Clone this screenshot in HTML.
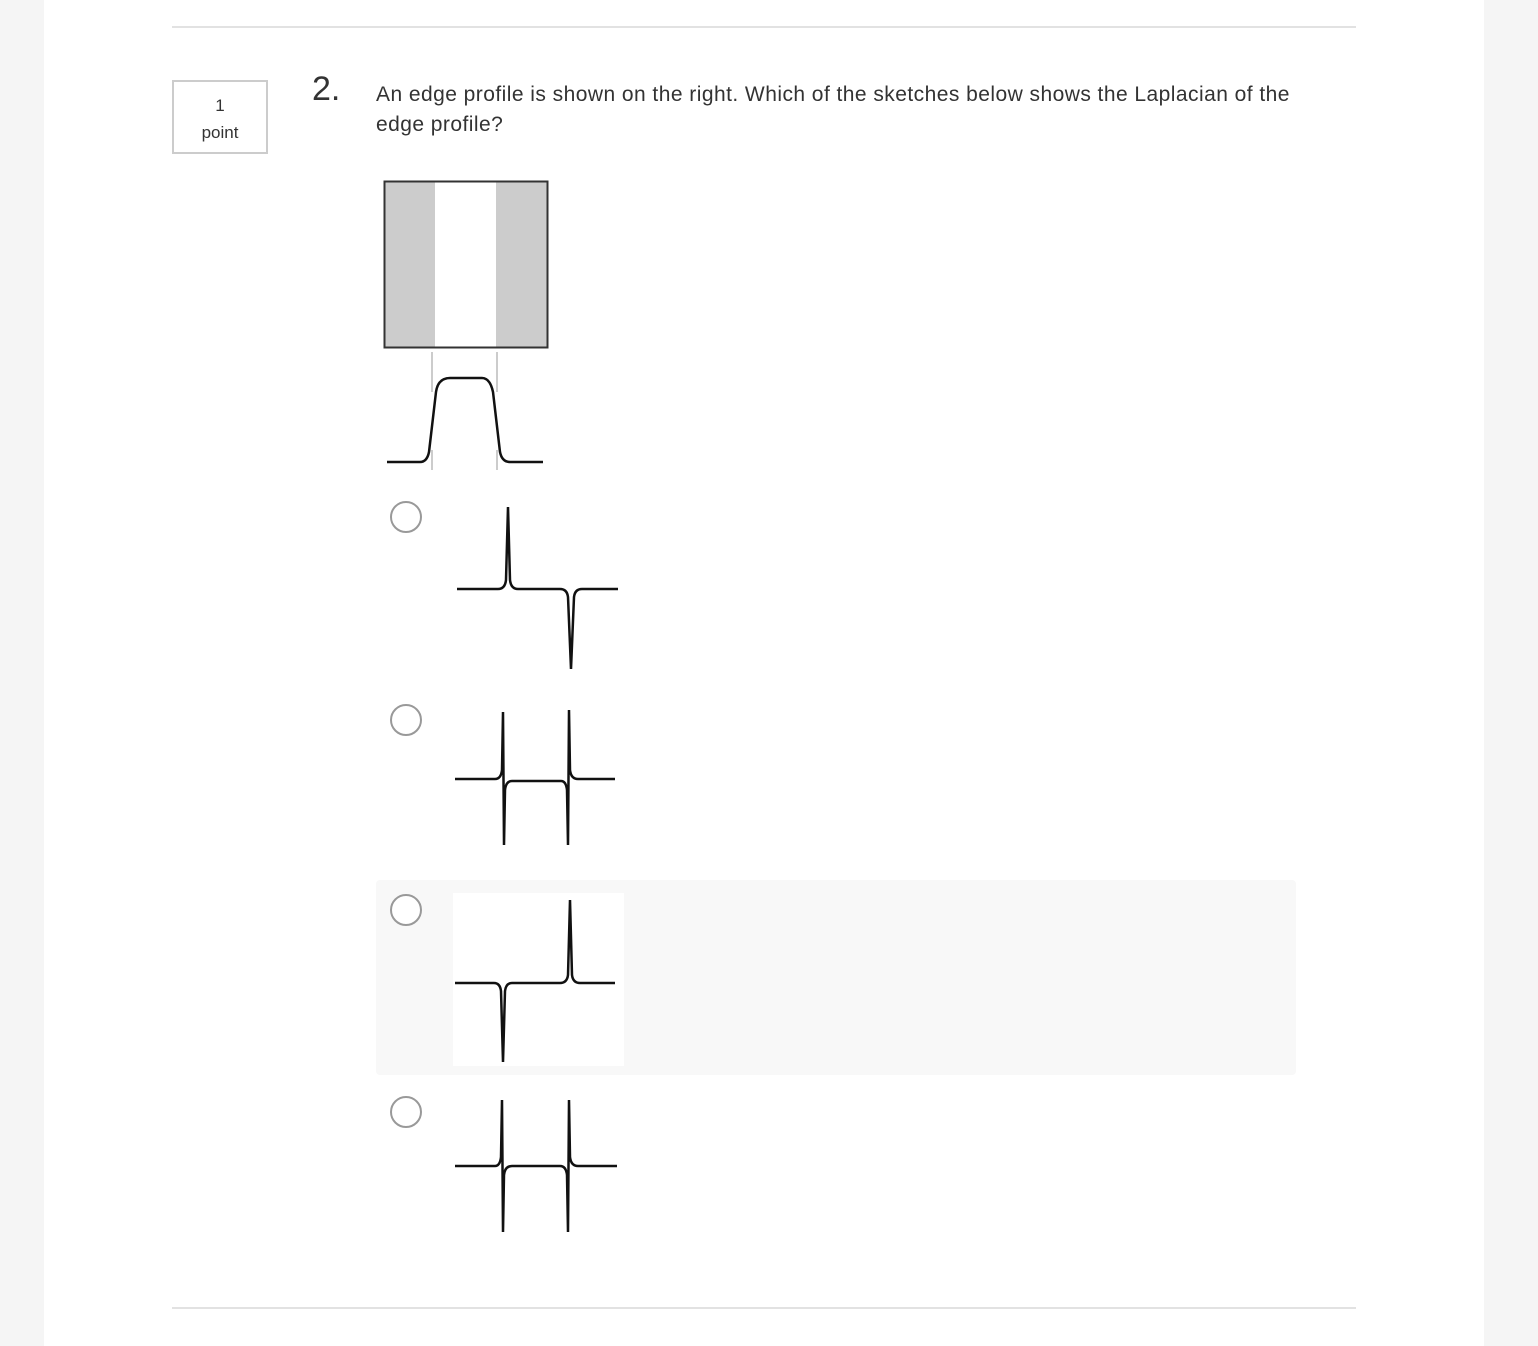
<!DOCTYPE html>
<html><head><meta charset="utf-8"><style>
body{margin:0;width:1538px;height:1346px;background:#f5f5f5;font-family:"Liberation Sans",sans-serif;overflow:hidden}
.card{position:absolute;left:44px;top:0;width:1440px;height:1346px;background:#fff}
.hr{position:absolute;left:172px;width:1184px;height:2px;background:#e2e2e2}
.pt{position:absolute;left:172px;top:80px;width:96px;height:74px;border:2px solid #ccc;text-align:center;font-size:17px;color:#333;line-height:27px;padding-top:10px;box-sizing:border-box}
.num{position:absolute;left:312px;top:70px;font-size:34px;color:#333}
.q{position:absolute;left:376px;top:80px;font-size:21px;letter-spacing:0.45px;line-height:30px;color:#333;width:940px;white-space:nowrap}
.radio{position:absolute;width:32px;height:32px;border:2px solid #999;border-radius:50%;box-sizing:border-box;background:#fff}
.hl{position:absolute;left:376px;top:880px;width:920px;height:195px;background:#f8f8f8;border-radius:4px}
</style></head><body>
<div class="card"></div>
<div class="hr" style="top:26px"></div>
<div class="hr" style="top:1307px"></div>
<div class="pt">1<br>point</div>
<div class="num">2.</div>
<div class="q">An edge profile is shown on the right. Which of the sketches below shows the Laplacian of the<br>edge profile?</div>
<div class="hl"></div>
<div class="radio" style="left:390px;top:501px"></div>
<div class="radio" style="left:390px;top:704px"></div>
<div class="radio" style="left:390px;top:894px"></div>
<div class="radio" style="left:390px;top:1096px"></div>
<svg width="1538" height="1346" style="position:absolute;left:0;top:0" fill="none" stroke="#111" stroke-width="2.5">
<g>
<rect x="453" y="893" width="171" height="173" fill="#fff" stroke="none"/>
<rect x="385" y="182" width="50" height="165" fill="#ccc" stroke="none"/>
<rect x="496" y="182" width="52" height="165" fill="#ccc" stroke="none"/>
<rect x="384.5" y="181.5" width="163" height="166" stroke="#333" stroke-width="2"/>
<path d="M432 352V392M497 352V392M432 450V470M497 450V470" stroke="#999" stroke-width="1"/>
<path d="M387 462H420Q427 462 429 452L436 392Q438 378 450 378H482Q490 378 493 392L500 452Q502 462 510 462H543"/>
</g>
<g>
<path d="M457 589H498Q505 589 506 580L508 507L510 580Q511 589 518 589H560Q567 589 568 597L571 669L574 597Q575 589 582 589H618"/>
</g>
<g>
<path d="M455 779H495Q501 779 502 770L503 712L504 845L505 790Q506 781 512 781H561Q566 781 567 790L568 845L569 710L570 770Q571 779 578 779H615"/>
</g>
<g>
<path d="M455 983H494Q500 983 501 991L503 1062L505 991Q506 983 512 983H560Q567 983 568 975L570 900L572 975Q573 983 580 983H615"/>
</g>
<g>
<path d="M455 1166H495Q500 1166 501 1157L502 1100L503 1232L504 1175Q505 1166 512 1166H560Q566 1166 567 1175L568 1232L569 1100L570 1157Q571 1166 578 1166H617"/>
</g>
</svg>
</body></html>
